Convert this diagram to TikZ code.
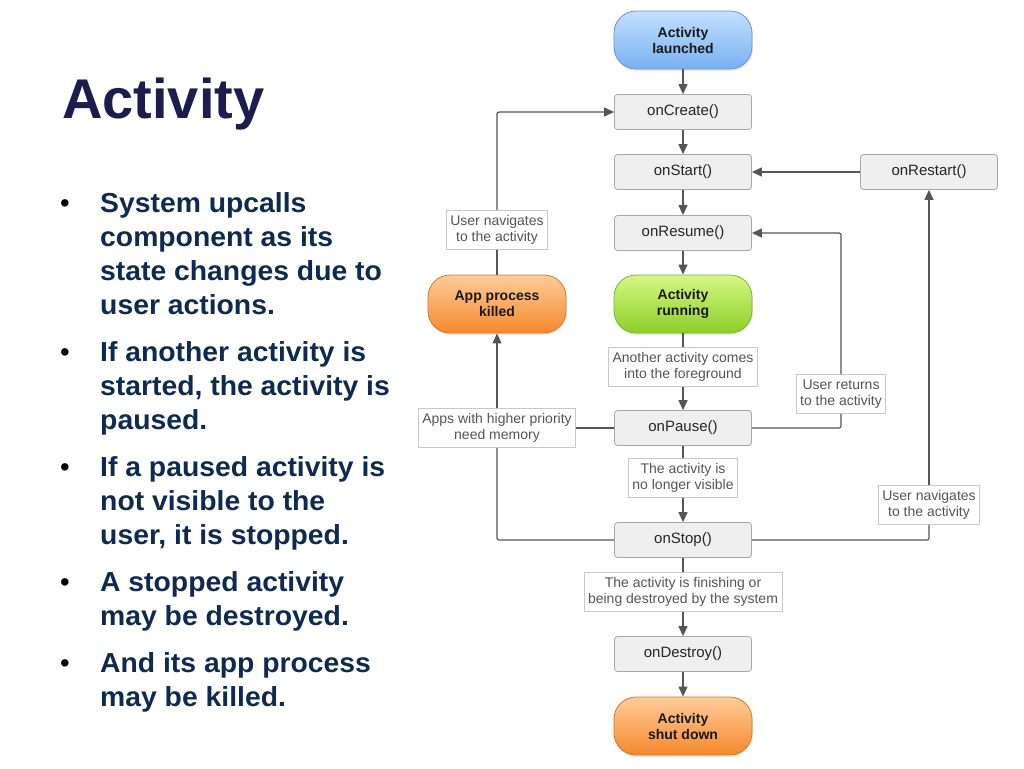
\documentclass[tikz,border=0pt]{standalone}
\usepackage{fontspec}
\setmainfont{Liberation Sans}
\newfontfamily\bulfont[FakeStretch=1.03]{Liberation Sans}
\usetikzlibrary{arrows.meta,shadows}
\definecolor{titlecol}{HTML}{1C1C4E}
\definecolor{bulcol}{HTML}{0E2A50}
\definecolor{boxfill}{HTML}{EFEFEF}
\definecolor{boxdraw}{HTML}{A8A8A8}
\definecolor{lblfill}{HTML}{FFFFFF}
\definecolor{lbldraw}{HTML}{C8C8C8}
\definecolor{lbltext}{HTML}{555555}
\definecolor{linecol}{HTML}{555555}
\definecolor{bluetop}{HTML}{C4E0FF}
\definecolor{bluebot}{HTML}{78B0F2}
\definecolor{bluedraw}{HTML}{6F93C4}
\definecolor{greentop}{HTML}{D6F784}
\definecolor{greenbot}{HTML}{8CCF28}
\definecolor{greendraw}{HTML}{7FAF3A}
\definecolor{orangetop}{HTML}{FFCC9A}
\definecolor{orangebot}{HTML}{F5892C}
\definecolor{orangedraw}{HTML}{D3782F}
\tikzset{
  box/.style={draw=boxdraw, fill=boxfill, line width=0.8pt, rounded corners=3pt,
    minimum width=137pt, minimum height=35pt, inner sep=0pt, text=black!85,
    font=\fontsize{15}{17}\selectfont},
  lbl/.style={draw=lbldraw, fill=lblfill, line width=0.8pt, inner xsep=4pt, inner ysep=5pt,
    align=center, text=lbltext, font=\fontsize{14}{16.5}\selectfont},
  pill/.style={rounded corners=22pt, minimum width=138pt, minimum height=58pt, inner sep=0pt,
    align=center, line width=0.8pt, font=\bfseries\fontsize{14}{16}\selectfont, text=black!90,
    drop shadow={opacity=0.18, shadow xshift=1pt, shadow yshift=-2pt}},
  ln/.style={draw=linecol, line width=1.2pt, rounded corners=2pt},
  arr/.style={ln, -{Triangle[length=10pt,width=9pt]}},
  bul/.style={anchor=base west, inner sep=0pt, text=bulcol,
    font=\bulfont\bfseries\fontsize{27.5}{34}\selectfont},
  dot/.style={anchor=base, inner sep=0pt, text=black, font=\fontsize{27.5}{34}\selectfont},
}
\begin{document}
\begin{tikzpicture}[x=1pt,y=-1pt]
\useasboundingbox (0,0) rectangle (1024,768);
\fill[white] (0,0) rectangle (1024,768);
% title
\node[anchor=base west, inner sep=0pt, text=titlecol, font=\bfseries\fontsize{56}{60}\selectfont] (title) at (62,118) {Activity};
% bullets
\node[dot] (d1) at (65,212) {•};
\node[bul] (b1a) at (100,212) {System upcalls};
\node[bul] (b1b) at (100,246) {component as its};
\node[bul] (b1c) at (100,280) {state changes due to};
\node[bul] (b1d) at (100,314) {user actions.};
\node[dot] (d2) at (65,361) {•};
\node[bul] (b2a) at (100,361) {If another activity is};
\node[bul] (b2b) at (100,395) {started, the activity is};
\node[bul] (b2c) at (100,429) {paused.};
\node[dot] (d3) at (65,476) {•};
\node[bul] (b3a) at (100,476) {If a paused activity is};
\node[bul] (b3b) at (100,510) {not visible to the};
\node[bul] (b3c) at (100,544) {user, it is stopped.};
\node[dot] (d4) at (65,591) {•};
\node[bul] (b4a) at (100,591) {A stopped activity};
\node[bul] (b4b) at (100,625) {may be destroyed.};
\node[dot] (d5) at (65,672) {•};
\node[bul] (b5a) at (100,672) {And its app process};
\node[bul] (b5b) at (100,706) {may be killed.};
% diagram nodes
\node[pill, draw=bluedraw, top color=bluetop, bottom color=bluebot] (launched) at (683,40) {Activity\\launched};
\node[box] (onCreate) at (683,112) {onCreate()};
\node[box] (onStart) at (683,172) {onStart()};
\node[box] (onRestart) at (929,172) {onRestart()};
\node[box] (onResume) at (683,233) {onResume()};
\node[pill, draw=greendraw, top color=greentop, bottom color=greenbot] (running) at (683,304) {Activity\\running};
\node[lbl] (lfore) at (683,367) {Another activity comes\\into the foreground};
\node[box] (onPause) at (683,428) {onPause()};
\node[lbl] (lvis) at (683,478) {The activity is\\no longer visible};
\node[box] (onStop) at (683,540) {onStop()};
\node[lbl] (lfin) at (683,592) {The activity is finishing or\\being destroyed by the system};
\node[box] (onDestroy) at (683,654) {onDestroy()};
\node[pill, draw=orangedraw, top color=orangetop, bottom color=orangebot] (shut) at (683,726) {Activity\\shut down};
\node[pill, draw=orangedraw, top color=orangetop, bottom color=orangebot] (killed) at (497,304) {App process\\killed};
\node[lbl] (lnavL) at (497,230) {User navigates\\to the activity};
\node[lbl] (lmem) at (497,428) {Apps with higher priority\\need memory};
\node[lbl] (lret) at (841,394) {User returns\\to the activity};
\node[lbl] (lnavR) at (929,505) {User navigates\\to the activity};
% connectors
\draw[arr] (launched) -- (onCreate);
\draw[arr] (onCreate) -- (onStart);
\draw[arr] (onStart) -- (onResume);
\draw[arr] (onResume) -- (running);
\draw[ln] (running) -- (lfore);
\draw[arr] (lfore) -- (onPause);
\draw[ln] (onPause) -- (lvis);
\draw[arr] (lvis) -- (onStop);
\draw[ln] (onStop) -- (lfin);
\draw[arr] (lfin) -- (onDestroy);
\draw[arr] (onDestroy) -- (shut);
\draw[arr] (onRestart) -- (onStart);
\draw[ln] (onPause.east) -| (lret.south);
\draw[arr] (lret.north) |- (onResume.east);
\draw[ln] (onStop.east) -| (lnavR.south);
\draw[arr] (lnavR) -- (onRestart);
\draw[ln] (onPause.west) -- (lmem.east);
\draw[ln] (onStop.west) -| (lmem.south);
\draw[arr] (lmem) -- (killed);
\draw[ln] (killed) -- (lnavL);
\draw[arr] (lnavL.north) |- (onCreate.west);
\end{tikzpicture}
\end{document}
